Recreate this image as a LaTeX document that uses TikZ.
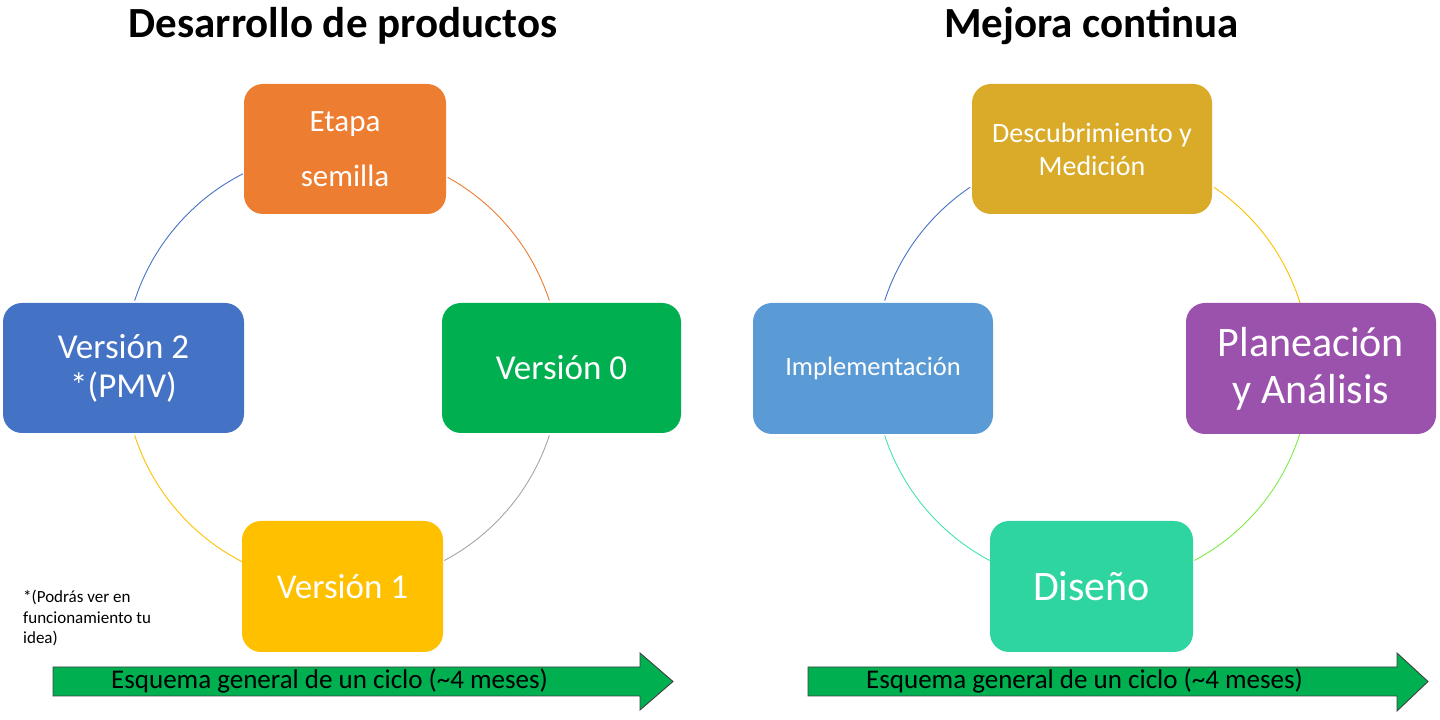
\documentclass[tikz,border=0pt]{standalone}
\usepackage{fontspec}
\setmainfont{Carlito}
\usetikzlibrary{calc}
\begin{document}
\begin{tikzpicture}[x=1pt,y=1pt,
  box/.style={rectangle, rounded corners=19pt, inner sep=0pt, align=center, text=white},
  cyc/.style={line width=0.9pt},
  bigarrow/.style={fill=cGreen, draw=black!75, line width=0.9pt},
  arrowtext/.style={anchor=west, inner sep=0pt, font=\fontsize{27}{30}\selectfont},
  title/.style={anchor=base, inner sep=0pt, font=\fontsize{43}{46}\selectfont\bfseries}
]
\definecolor{cOrange}{HTML}{ED7D31}
\definecolor{cGreen}{HTML}{00B050}
\definecolor{cBlue}{HTML}{4472C4}
\definecolor{cYellow}{HTML}{FFC000}
\definecolor{cGold}{HTML}{DAAB28}
\definecolor{cPurple}{HTML}{9A52AD}
\definecolor{cLBlue}{HTML}{5B9BD5}
\definecolor{cTeal}{HTML}{2ED5A1}
\definecolor{cGray}{HTML}{A5A5A5}
\definecolor{cLGreen}{HTML}{7EEB45}
\definecolor{cLTeal}{HTML}{45E3B0}

\useasboundingbox (0,0) rectangle (1440,720);

% titles
\node[title] (t1) at (343,682) {Desarrollo de productos};
\node[title] (t2) at (1091.5,682) {Mejora continua};

% circle centres
\coordinate (c1) at (342,352);
\coordinate (c2) at (1092,352);

% left cycle arcs
\draw[cyc, cBlue]   ($(c1)+(117:218)$) arc[start angle=117, end angle=162, radius=218];
\draw[cyc, cOrange] ($(c1)+(61:218)$)  arc[start angle=61,  end angle=18,  radius=218];
\draw[cyc, cGray]   ($(c1)+(-18:218)$) arc[start angle=-18, end angle=-62, radius=218];
\draw[cyc, cYellow] ($(c1)+(198:218)$) arc[start angle=198, end angle=243, radius=218];

% right cycle arcs
\draw[cyc, cBlue]   ($(c2)+(124:218)$) arc[start angle=124, end angle=162, radius=218];
\draw[cyc, cYellow] ($(c2)+(56:218)$)  arc[start angle=56,  end angle=17,  radius=218];
\draw[cyc, cLGreen] ($(c2)+(-17:218)$) arc[start angle=-17, end angle=-62, radius=218];
\draw[cyc, cLTeal]  ($(c2)+(198:218)$) arc[start angle=198, end angle=242, radius=218];

% left boxes
\node[box, fill=cOrange, minimum width=202, minimum height=130,
      font=\fontsize{31}{55}\selectfont] (semilla) at (345,571) {Etapa\\semilla};
\node[box, fill=cGreen, minimum width=239, minimum height=130,
      font=\fontsize{35}{40}\selectfont] (v0) at (561.5,352) {Versión 0};
\node[box, fill=cBlue, minimum width=241, minimum height=130,
      font=\fontsize{35}{39}\selectfont] (v2) at (123.5,352) {Versión 2\\*(PMV)};
\node[box, fill=cYellow, minimum width=201, minimum height=131,
      font=\fontsize{35}{40}\selectfont] (v1) at (342.5,133.5) {Versión 1};

% right boxes
\node[box, fill=cGold, minimum width=240, minimum height=130,
      font=\fontsize{28}{33}\selectfont] (desc) at (1092,571) {Descubrimiento y\\Medición};
\node[box, fill=cPurple, minimum width=250, minimum height=131,
      font=\fontsize{42}{47}\selectfont] (plan) at (1311,351.5) {Planeación\\y Análisis};
\node[box, fill=cLBlue, minimum width=240, minimum height=131,
      font=\fontsize{26.5}{30}\selectfont] (impl) at (873,351.5) {Implementación};
\node[box, fill=cTeal, minimum width=203, minimum height=131,
      font=\fontsize{42}{46}\selectfont] (dis) at (1091.5,133.5) {Diseño};

% footnote
\node[anchor=north west, inner sep=0pt, align=left, font=\fontsize{17}{20.5}\selectfont] (note)
  at (23,130) {*(Podrás ver en\\funcionamiento tu\\idea)};

% bottom arrows
\draw[bigarrow] (53,24) -- (640,24) -- (640,10) -- (673,38.5) -- (640,67) -- (640,53) -- (53,53) -- cycle;
\node[arrowtext] (a1) at (111,39) {Esquema general de un ciclo (\textasciitilde4 meses)};
\draw[bigarrow] (808,24) -- (1397,24) -- (1397,9) -- (1428,38.5) -- (1397,67) -- (1397,53) -- (808,53) -- cycle;
\node[arrowtext] (a2) at (866,39) {Esquema general de un ciclo (\textasciitilde4 meses)};
\end{tikzpicture}
\end{document}
